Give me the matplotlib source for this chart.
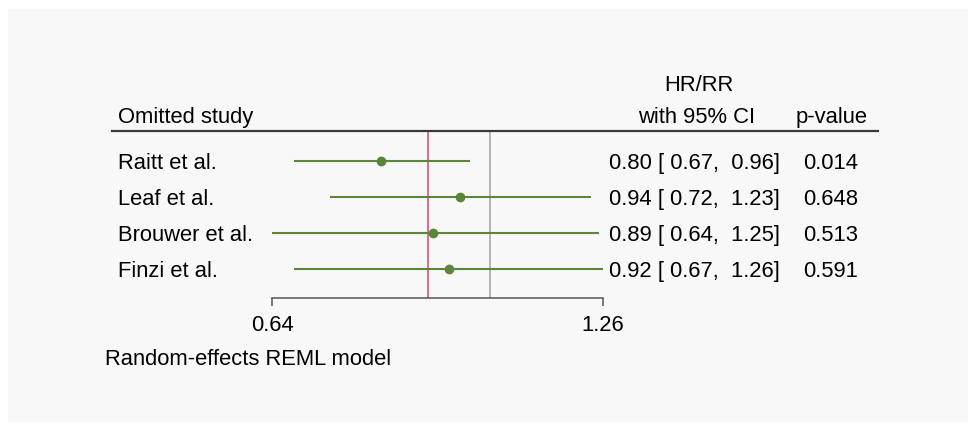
import matplotlib
matplotlib.use('Agg')
import matplotlib.pyplot as plt
import matplotlib.transforms as mtransforms
from matplotlib.patches import Rectangle
from matplotlib.lines import Line2D

# --- dados (leave-one-out, modelo REML) ---
estudos = ['Raitt et al.', 'Leaf et al.', 'Brouwer et al.', 'Finzi et al.']
hr = [0.80, 0.94, 0.89, 0.92]
ic_inf = [0.67, 0.72, 0.64, 0.67]
ic_sup = [0.96, 1.23, 1.25, 1.26]
p_valores = [0.014, 0.648, 0.513, 0.591]
hr_geral = 0.88
x_ticks = [0.64, 1.26]

# --- estilo ---
plt.rcParams['font.family'] = ['Liberation Sans', 'DejaVu Sans']
fs = 15.8
verde = '#5b8538'
vermelho = '#d8547c'
cinza = '#a9a9a9'

W, H = 976, 429
fig = plt.figure(figsize=(W / 100, H / 100), dpi=100, facecolor='white')


def px(x, y):
    # pixel -> fração da figura
    return x / W, 1 - y / H


# painel de fundo
fig.patches.append(Rectangle(px(8, 422), 960 / W, 413 / H, transform=fig.transFigure,
                             facecolor='#f8f8f8', edgecolor='none', zorder=-5))

# eixo principal (escala log)
x0, y1 = px(272, 298)
x1, y0 = px(603, 131)
ax = fig.add_axes([x0, y1, x1 - x0, y0 - y1])
ax.set_facecolor('none')
ax.set_xscale('log')
ax.set_xlim(0.64, 1.26)
ax.set_ylim(3 + 29 / 36, -30 / 36)

linhas = range(len(estudos))
ax.axvline(1.0, color=cinza, lw=1.2, zorder=1)
ax.axvline(hr_geral, color=vermelho, lw=1.2, zorder=1)
ax.hlines(list(linhas), ic_inf, ic_sup, color=verde, lw=1.5, zorder=2, clip_on=False)
ax.plot(hr, list(linhas), 'o', color=verde, ms=6, zorder=3, clip_on=False)

for s in ['top', 'left', 'right']:
    ax.spines[s].set_visible(False)
ax.spines['bottom'].set_color('#555555')
ax.spines['bottom'].set_linewidth(1.1)
ax.spines['bottom'].set_bounds(x_ticks[0], x_ticks[-1])
ax.set_yticks([])
ax.xaxis.set_minor_locator(matplotlib.ticker.NullLocator())
ax.set_xticks(x_ticks)
ax.set_xticklabels([f'{v:.2f}' for v in x_ticks], fontsize=fs)
ax.tick_params(axis='x', direction='out', length=5.5, width=1.1, color='#555555', pad=7)

# textos das linhas
trans = mtransforms.blended_transform_factory(fig.transFigure, ax.transData)
desl = mtransforms.ScaledTranslation(0, -0.08, fig.dpi_scale_trans)
for i, nome in enumerate(estudos):
    ax.text(118 / W, i, nome, transform=trans + desl, fontsize=fs, ha='left', va='baseline')
    txt = f'{hr[i]:.2f} [{ic_inf[i]:5.2f}, {ic_sup[i]:5.2f}]'
    ax.text(780 / W, i, txt, transform=trans + desl, fontsize=fs, ha='right', va='baseline')
    ax.text(803 / W, i, f'{p_valores[i]:.3f}', transform=trans + desl, fontsize=fs,
            ha='left', va='baseline')

# cabeçalho
fig.text(*px(118, 123), 'Omitted study', fontsize=fs, ha='left', va='baseline')
fig.text(*px(699, 91), 'HR/RR', fontsize=fs, ha='center', va='baseline')
fig.text(*px(697, 123), 'with 95% CI', fontsize=fs, ha='center', va='baseline')
fig.text(*px(832, 123), 'p-value', fontsize=fs, ha='center', va='baseline')
xa, ya = px(112, 131)
xb, _ = px(878, 131)
fig.add_artist(Line2D([xa, xb], [ya, ya], transform=fig.transFigure, color='#3a3a3a', lw=1.6))

# nota
fig.text(*px(105, 365), 'Random-effects REML model', fontsize=fs, ha='left', va='baseline')

fig.savefig('out.png', dpi=100, facecolor=fig.get_facecolor())
